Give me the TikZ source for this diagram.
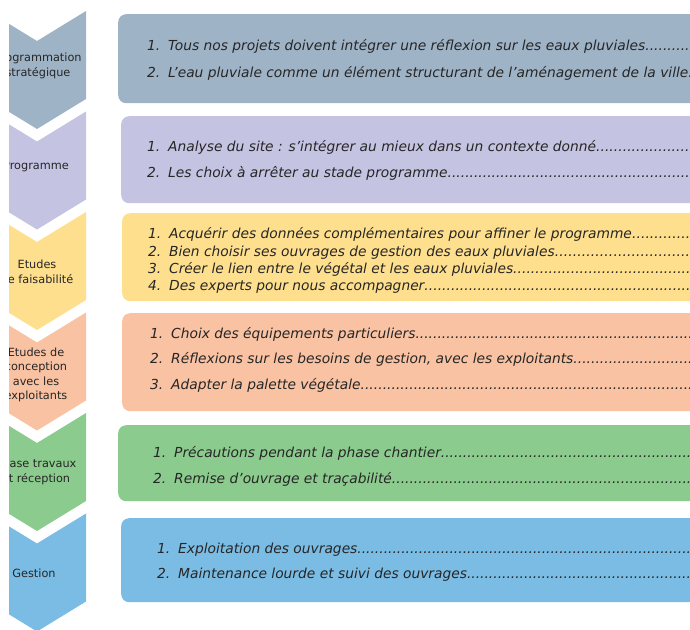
\documentclass[tikz,border=0pt]{standalone}
\usepackage{fontspec}
\setmainfont{DejaVu Sans}
\usetikzlibrary{positioning}
\definecolor{cgris}{HTML}{9FB3C6}
\definecolor{clav}{HTML}{C5C3E2}
\definecolor{cjaune}{HTML}{FEDF8E}
\definecolor{csaumon}{HTML}{F8C2A3}
\definecolor{cvert}{HTML}{8BCB8D}
\definecolor{cbleu}{HTML}{7ABCE3}
\definecolor{txt}{HTML}{262626}
\tikzset{font=\fontsize{10}{12}\selectfont}
\tikzset{
  etape/.style={align=center, text=txt, inner sep=0pt, font=\fontsize{11.3}{14.5}\selectfont},
  cadre/.style={fill=#1, rounded corners=8pt, anchor=north west, minimum width=640pt, inner sep=0pt},
  ligne/.style={anchor=base west, inner sep=0pt, text=txt, font=\fontsize{13.8}{15}\selectfont\itshape}
}
\newcommand\pts{\xleaders\hbox{.}\hfill}
\newcommand\puce[2]{\makebox[560pt][l]{\makebox[21pt][l]{#1}#2\pts}}

\begin{document}
\begin{tikzpicture}[x=1pt,y=-1pt]
\useasboundingbox (0,0) rectangle (690,629);

% colonne des etapes
\begin{scope}
  \clip (9,0) rectangle (100,629);
  \foreach \t/\c in {11/cgris, 111.5/clav, 212/cjaune, 312.5/csaumon, 413/cvert, 513.5/cbleu}{
    \fill[\c] (-12,\t) -- (37,\t+30) -- (86,\t) -- (86,\t+88) -- (37,\t+118) -- (-12,\t+88) -- cycle;
  };
  \node[etape] (e1) at (38,66) {Programmation\\stratégique};
  \node[etape] (e2) at (36,167) {Programme};
  \node[etape] (e3) at (37,272) {Etudes\\de faisabilité};
  \node[etape] (e4) at (36,375) {Etudes de\\conception\\avec les\\exploitants};
  \node[etape] (e5) at (36,472) {Phase travaux\\et réception};
  \node[etape] (e6) at (34,573) {Gestion};
\end{scope}

% cadres de droite
\begin{scope}
  \clip (0,0) rectangle (690,629);
  \node[cadre=cgris, minimum height=89pt] (b1) at (118,14) {};
  \node[cadre=clav, minimum height=87pt] (b2) at (121,116) {};
  \node[cadre=cjaune, minimum height=88pt] (b3) at (122,213) {};
  \node[cadre=csaumon, minimum height=98pt] (b4) at (122,313) {};
  \node[cadre=cvert, minimum height=76pt] (b5) at (118,425) {};
  \node[cadre=cbleu, minimum height=84pt] (b6) at (121,518) {};

  \node[ligne] (b1a) at (147,50) {\puce{1.}{Tous nos projets doivent intégrer une réflexion sur les eaux pluviales}};
  \node[ligne] (b1b) at (147,77) {\puce{2.}{L’eau pluviale comme un élément structurant de l’aménagement de la ville.}};

  \node[ligne] (b2a) at (147,151) {\puce{1.}{Analyse du site : s’intégrer au mieux dans un contexte donné}};
  \node[ligne] (b2b) at (147,177) {\puce{2.}{Les choix à arrêter au stade programme}};

  \node[ligne] (b3a) at (148,238) {\puce{1.}{Acquérir des données complémentaires pour affiner le programme}};
  \node[ligne] (b3b) at (148,256) {\puce{2.}{Bien choisir ses ouvrages de gestion des eaux pluviales}};
  \node[ligne] (b3c) at (148,273) {\puce{3.}{Créer le lien entre le végétal et les eaux pluviales}};
  \node[ligne] (b3d) at (148,290) {\puce{4.}{Des experts pour nous accompagner}};

  \node[ligne] (b4a) at (150,338) {\puce{1.}{Choix des équipements particuliers}};
  \node[ligne] (b4b) at (150,363) {\puce{2.}{Réflexions sur les besoins de gestion, avec les exploitants}};
  \node[ligne] (b4c) at (150,389) {\puce{3.}{Adapter la palette végétale}};

  \node[ligne] (b5a) at (153,457) {\puce{1.}{Précautions pendant la phase chantier}};
  \node[ligne] (b5b) at (153,483) {\puce{2.}{Remise d’ouvrage et traçabilité}};

  \node[ligne] (b6a) at (157,553) {\puce{1.}{Exploitation des ouvrages}};
  \node[ligne] (b6b) at (157,578) {\puce{2.}{Maintenance lourde et suivi des ouvrages}};
\end{scope}
\end{tikzpicture}
\end{document}
